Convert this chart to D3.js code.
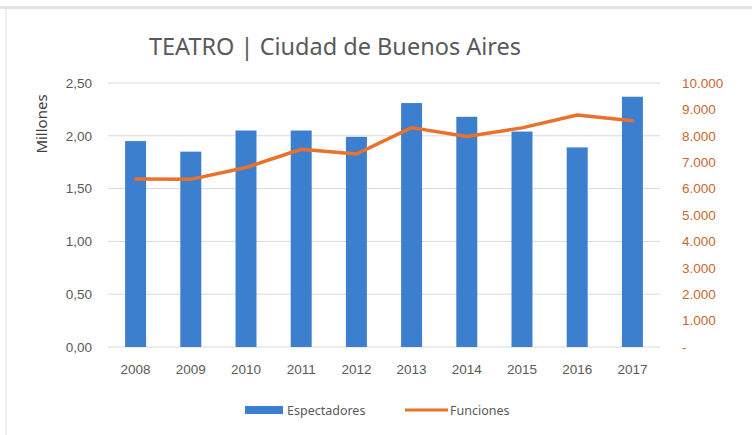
<!DOCTYPE html>
<html lang="es">
<head>
  <meta charset="UTF-8">
  <title>TEATRO | Ciudad de Buenos Aires</title>
  <script src="https://d3js.org/d3.v7.min.js"></script>
  <style>
    body { margin: 0; background: #fff; }
    svg { font-family: "Noto Sans", "Open Sans", sans-serif; }
  </style>
</head>
<body>
<div id="chart"></div>
<script>
  // data
  const years = ["2008", "2009", "2010", "2011", "2012", "2013", "2014", "2015", "2016", "2017"];
  const espectadores = [1.95, 1.85, 2.05, 2.05, 1.99, 2.31, 2.18, 2.04, 1.89, 2.37]; // millones
  const funciones = [6360, 6350, 6800, 7490, 7310, 8310, 7970, 8300, 8790, 8570];
  const leftTicks = [0, 0.5, 1, 1.5, 2, 2.5];
  const rightTicks = [0, 1000, 2000, 3000, 4000, 5000, 6000, 7000, 8000, 9000, 10000];

  const W = 752, H = 435;
  const margin = { top: 83, right: 92, bottom: 88, left: 108 };
  const width = W - margin.left - margin.right,
        height = H - margin.top - margin.bottom;

  const svg = d3.select("#chart").append("svg")
    .attr("width", W).attr("height", H);

  // faint chart frame
  svg.append("rect").attr("x", 0).attr("y", 6).attr("width", W).attr("height", 3).attr("fill", "#e4e4e4");
  svg.append("rect").attr("x", 5).attr("y", 9).attr("width", 2).attr("height", H - 9).attr("fill", "#f2f2f2");

  const g = svg.append("g").attr("transform", `translate(${margin.left},${margin.top})`);

  const x = d3.scaleBand().domain(years).range([0, width]).paddingInner(0.62).paddingOuter(0.31);
  const y = d3.scaleLinear().domain([0, 2.5]).range([height, 0]);
  const y2 = d3.scaleLinear().domain([0, 10000]).range([height, 0]);

  // gridlines
  g.append("g").selectAll("line").data(leftTicks).join("line")
    .attr("x1", 0).attr("x2", width)
    .attr("y1", d => y(d)).attr("y2", d => y(d))
    .attr("stroke", "#d9d9d9").attr("stroke-width", 1);

  // left axis
  const fmtL = d => d3.format(".2f")(d).replace(".", ",");
  const left = g.append("g").call(d3.axisLeft(y).tickValues(leftTicks).tickFormat(fmtL).tickSize(0).tickPadding(16));
  left.select(".domain").remove();
  left.selectAll("text").attr("fill", "#595959").style("font-size", "13.5px");

  // right axis
  const fmtR = d => d === 0 ? "-" : d3.format(",")(d).replace(/,/g, ".");
  const right = g.append("g").attr("transform", `translate(${width},0)`)
    .call(d3.axisRight(y2).tickValues(rightTicks).tickFormat(fmtR).tickSize(0).tickPadding(22));
  right.select(".domain").remove();
  right.selectAll("text").attr("fill", "#c8692f").style("font-size", "13.5px");

  // bars
  g.append("g").selectAll("rect").data(years).join("rect")
    .attr("x", d => x(d))
    .attr("y", (d, i) => y(espectadores[i]))
    .attr("width", x.bandwidth())
    .attr("height", (d, i) => height - y(espectadores[i]))
    .attr("fill", "#3d7fcf");

  // line
  const line = d3.line()
    .x((d, i) => x(years[i]) + x.bandwidth() / 2)
    .y(d => y2(d));
  g.append("path").datum(funciones)
    .attr("d", line)
    .attr("fill", "none")
    .attr("stroke", "#e8722c")
    .attr("stroke-width", 3.5)
    .attr("stroke-linejoin", "round")
    .attr("stroke-linecap", "round");

  // x axis labels
  const bottom = g.append("g").attr("transform", `translate(0,${height})`)
    .call(d3.axisBottom(x).tickSize(0).tickPadding(17));
  bottom.select(".domain").remove();
  bottom.selectAll("text").attr("fill", "#595959").style("font-size", "13.5px");

  // title
  svg.append("text")
    .attr("x", 335).attr("y", 55)
    .attr("text-anchor", "middle")
    .attr("fill", "#595959")
    .style("font-size", "23.5px")
    .text("TEATRO | Ciudad de Buenos Aires");

  // y axis title
  svg.append("text")
    .attr("transform", "translate(47,124) rotate(-90)")
    .attr("text-anchor", "middle")
    .attr("fill", "#404040")
    .style("font-size", "15px")
    .text("Millones");

  // legend
  const leg = svg.append("g").attr("transform", "translate(0,410)");
  leg.append("rect").attr("x", 245).attr("y", -4).attr("width", 38).attr("height", 8).attr("fill", "#3d7fcf");
  leg.append("text").attr("x", 287).attr("y", 4.5).attr("fill", "#595959").style("font-size", "12.5px").text("Espectadores");
  leg.append("line").attr("x1", 405).attr("x2", 448).attr("y1", 0).attr("y2", 0)
    .attr("stroke", "#e8722c").attr("stroke-width", 3);
  leg.append("text").attr("x", 450).attr("y", 4.5).attr("fill", "#595959").style("font-size", "12.5px").text("Funciones");
</script>
</body>
</html>
